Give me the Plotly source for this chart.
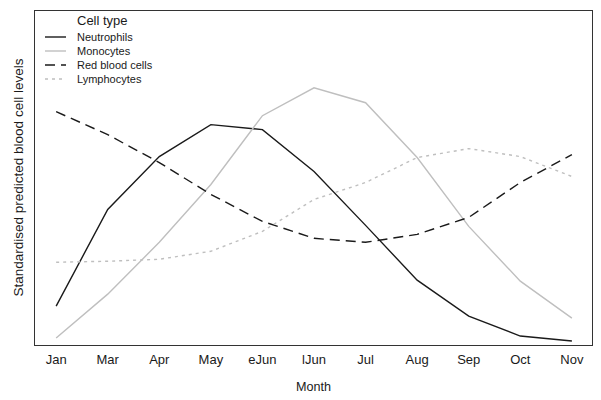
import plotly.graph_objects as go

months = ["Jan", "Mar", "Apr", "May", "eJun", "lJun", "Jul", "Aug", "Sep", "Oct", "Nov"]
neutrophils = [0.39, 1.36, 1.89, 2.21, 2.16, 1.74, 1.20, 0.65, 0.29, 0.09, 0.04]
monocytes = [0.07, 0.51, 1.03, 1.61, 2.30, 2.58, 2.43, 1.88, 1.19, 0.64, 0.27]
red_blood_cells = [2.34, 2.11, 1.83, 1.51, 1.24, 1.07, 1.03, 1.11, 1.28, 1.63, 1.91]
lymphocytes = [0.83, 0.84, 0.86, 0.94, 1.14, 1.46, 1.63, 1.88, 1.97, 1.89, 1.69]

series_names = ["Neutrophils", "Monocytes", "Red blood cells", "Lymphocytes"]
series_values = [neutrophils, monocytes, red_blood_cells, lymphocytes]
styles = [
    dict(color="#1a1a1a", width=1.4),
    dict(color="#bfbfbf", width=1.4),
    dict(color="#1a1a1a", width=1.4, dash="10px,6px"),
    dict(color="#bfbfbf", width=1.4, dash="3px,4px"),
]

fig = go.Figure()
xs = list(range(len(months)))
for name, vals, st in zip(series_names, series_values, styles):
    fig.add_trace(go.Scatter(x=xs, y=vals, mode="lines", name=name, line=st, showlegend=False))

# page offset (body margin) compensation
OFF = 8
W, H = 601 - OFF, 400 - OFF
# plot area in screen px: x 35..592, y 11..345
L, R, T, B = 35 - OFF, 592 - OFF, 11 - OFF, 345 - OFF

def px_x(p):
    return (p - OFF - L) / (R - L)

def px_y(p):
    return (B - (p - OFF)) / (B - T)

fig.add_annotation(x=px_x(75), y=px_y(20), xref="paper", yref="paper", text="Cell type",
                   showarrow=False, xanchor="left", yanchor="middle", font=dict(size=13))
for i, (name, st) in enumerate(zip(series_names, styles)):
    yc = 37 + 14 * i
    fig.add_shape(type="line", xref="paper", yref="paper",
                  x0=px_x(45), x1=px_x(66), y0=px_y(yc), y1=px_y(yc), line=st)
    fig.add_annotation(x=px_x(75), y=px_y(yc), xref="paper", yref="paper", text=name,
                       showarrow=False, xanchor="left", yanchor="middle", font=dict(size=11))

# y-axis title
fig.add_annotation(x=px_x(18), y=px_y(177.5), xref="paper", yref="paper",
                   text="Standardised predicted blood cell levels", textangle=-90,
                   showarrow=False, xanchor="center", yanchor="middle", font=dict(size=13.5))

fig.update_layout(
    width=W, height=H,
    margin=dict(l=L, r=W - R, t=T, b=H - B),
    paper_bgcolor="white", plot_bgcolor="white",
    font=dict(family="Liberation Sans, Arial, sans-serif", size=12, color="#1a1a1a"),
    showlegend=False,
    xaxis=dict(tickmode="array", tickvals=xs, ticktext=months,
               range=[-0.41, 10.39], showgrid=False, zeroline=False, automargin=False,
               showline=True, mirror=True, linecolor="#333", linewidth=1.2,
               ticks="", ticklabelstandoff=2, tickfont=dict(size=13),
               title=dict(text="Month", font=dict(size=12.6), standoff=16)),
    yaxis=dict(range=[0, 3.35], showgrid=False, zeroline=False, showticklabels=False, automargin=False,
               showline=True, mirror=True, linecolor="#333", linewidth=1.2, ticks=""),
)

fig.write_html("out.html")
